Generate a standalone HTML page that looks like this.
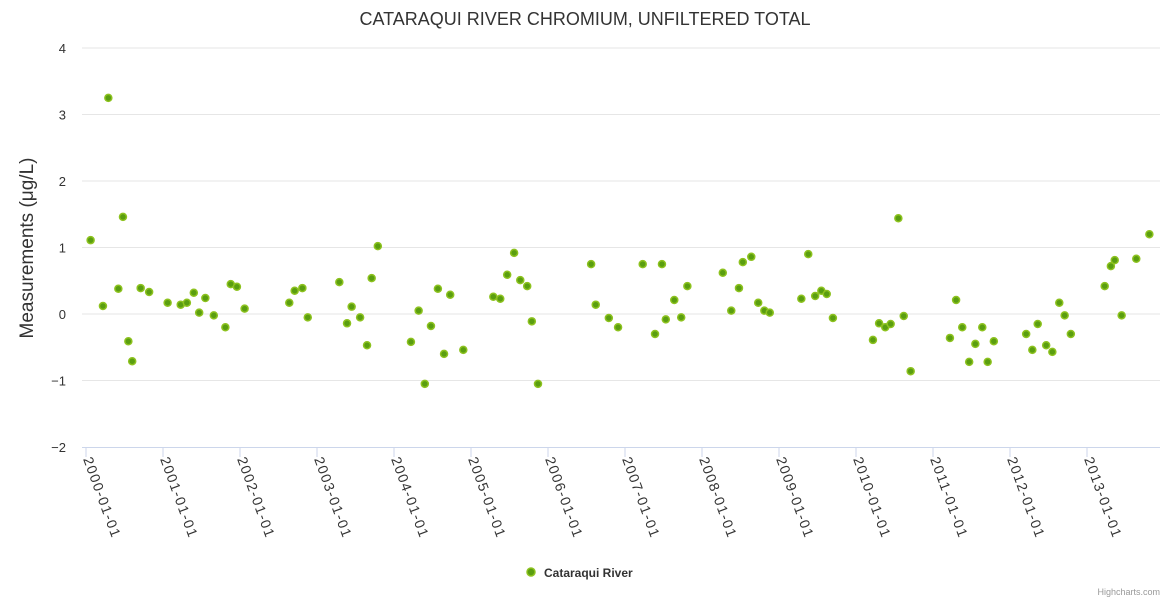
<!DOCTYPE html>
<html><head><meta charset="utf-8"><style>
html,body{margin:0;padding:0;background:#fff;width:1170px;height:600px;overflow:hidden;font-family:"Liberation Sans",sans-serif}
</style></head><body>
<svg id="chart" width="1170" height="600" xmlns="http://www.w3.org/2000/svg">
<text x="585" y="25" text-anchor="middle" font-size="18" fill="#333">CATARAQUI RIVER CHROMIUM, UNFILTERED TOTAL</text>
<text transform="translate(33,248) rotate(-90)" text-anchor="middle" font-size="19" fill="#333">Measurements (μg/L)</text>
<g id="grid"></g><g id="xaxis"></g><g id="pts"></g>
<g>
<circle cx="531" cy="572" r="4" fill="#5a9e10" stroke="#8dc21f" stroke-width="1.5"/>
<text x="544" y="577" font-size="12" font-weight="bold" fill="#333">Cataraqui River</text></g>
<text x="1160" y="595" text-anchor="end" font-size="9" fill="#999">Highcharts.com</text>
</svg>
<script>
const yTicks=[-2,-1,0,1,2,3,4];
const xTickYears=[2000,2001,2002,2003,2004,2005,2006,2007,2008,2009,2010,2011,2012,2013];
const dates=[0.06,0.22,0.29,0.42,0.48,0.55,0.60,0.71,0.82,1.06,1.23,1.31,1.40,1.47,1.55,1.66,1.81,1.88,1.96,2.06,2.64,2.71,2.81,2.88,3.29,3.39,3.45,3.56,3.65,3.71,3.79,4.22,4.32,4.40,4.48,4.57,4.65,4.73,4.90,5.29,5.38,5.47,5.56,5.64,5.73,5.79,5.87,6.56,6.62,6.79,6.91,7.23,7.39,7.48,7.53,7.64,7.73,7.81,8.27,8.38,8.48,8.53,8.64,8.73,8.81,8.88,9.29,9.38,9.47,9.55,9.62,9.70,10.22,10.30,10.38,10.45,10.55,10.62,10.71,11.22,11.30,11.38,11.47,11.55,11.64,11.71,11.79,12.21,12.29,12.36,12.47,12.55,12.64,12.71,12.79,13.23,13.31,13.36,13.45,13.64,13.81];
const values=[1.11,0.12,3.25,0.38,1.46,-0.41,-0.71,0.39,0.33,0.17,0.14,0.17,0.32,0.02,0.24,-0.02,-0.20,0.45,0.41,0.08,0.17,0.35,0.39,-0.05,0.48,-0.14,0.11,-0.05,-0.47,0.54,1.02,-0.42,0.05,-1.05,-0.18,0.38,-0.60,0.29,-0.54,0.26,0.23,0.59,0.92,0.51,0.42,-0.11,-1.05,0.75,0.14,-0.06,-0.20,0.75,-0.30,0.75,-0.08,0.21,-0.05,0.42,0.62,0.05,0.39,0.78,0.86,0.17,0.05,0.02,0.23,0.90,0.27,0.35,0.30,-0.06,-0.39,-0.14,-0.20,-0.15,1.44,-0.03,-0.86,-0.36,0.21,-0.20,-0.72,-0.45,-0.20,-0.72,-0.41,-0.30,-0.54,-0.15,-0.47,-0.57,0.17,-0.02,-0.30,0.42,0.72,0.81,-0.02,0.83,1.20];
const NS="http://www.w3.org/2000/svg";
function xs(yr){return 86+yr*77;}
function ys(v){return 314-v*66.5;}
function mk(t,a,p){const e=document.createElementNS(NS,t);for(const k in a)e.setAttribute(k,a[k]);p.appendChild(e);return e;}
const grid=document.getElementById('grid'),xa=document.getElementById('xaxis'),pts=document.getElementById('pts');
yTicks.forEach(v=>{
 if(v!==-2){const l=mk('line',{x1:82,x2:1160,y1:ys(v),y2:ys(v),stroke:'#e6e6e6'},grid);
 
 }
 const t=mk('text',{x:66,y:ys(v)+5,'text-anchor':'end','font-size':13,fill:'#333'},grid);
 
 
 t.textContent=v<0?'−'+(-v):v;
});
const al=mk('line',{x1:82,x2:1160,y1:447.5,y2:447.5,stroke:'#ccd6eb'},xa);


xTickYears.forEach(y=>{
 const x=xs(y-2000);
 const tk=mk('line',{x1:x,x2:x,y1:447,y2:457,stroke:'#ccd6eb'},xa);
 
 
 const t=mk('text',{transform:`translate(${x-3},${459}) rotate(70)`,'font-size':14,fill:'#333',textLength:84,lengthAdjust:'spacing'},xa);
 
 
 t.textContent=y+'-01-01';
});
dates.forEach((d,i)=>{
 const c=mk('circle',{cx:xs(d),cy:ys(values[i]),r:3.5,fill:'#5a9e10',stroke:'#8dc21f','stroke-width':1.5},pts);
 
 
});
</script>
</body></html>
